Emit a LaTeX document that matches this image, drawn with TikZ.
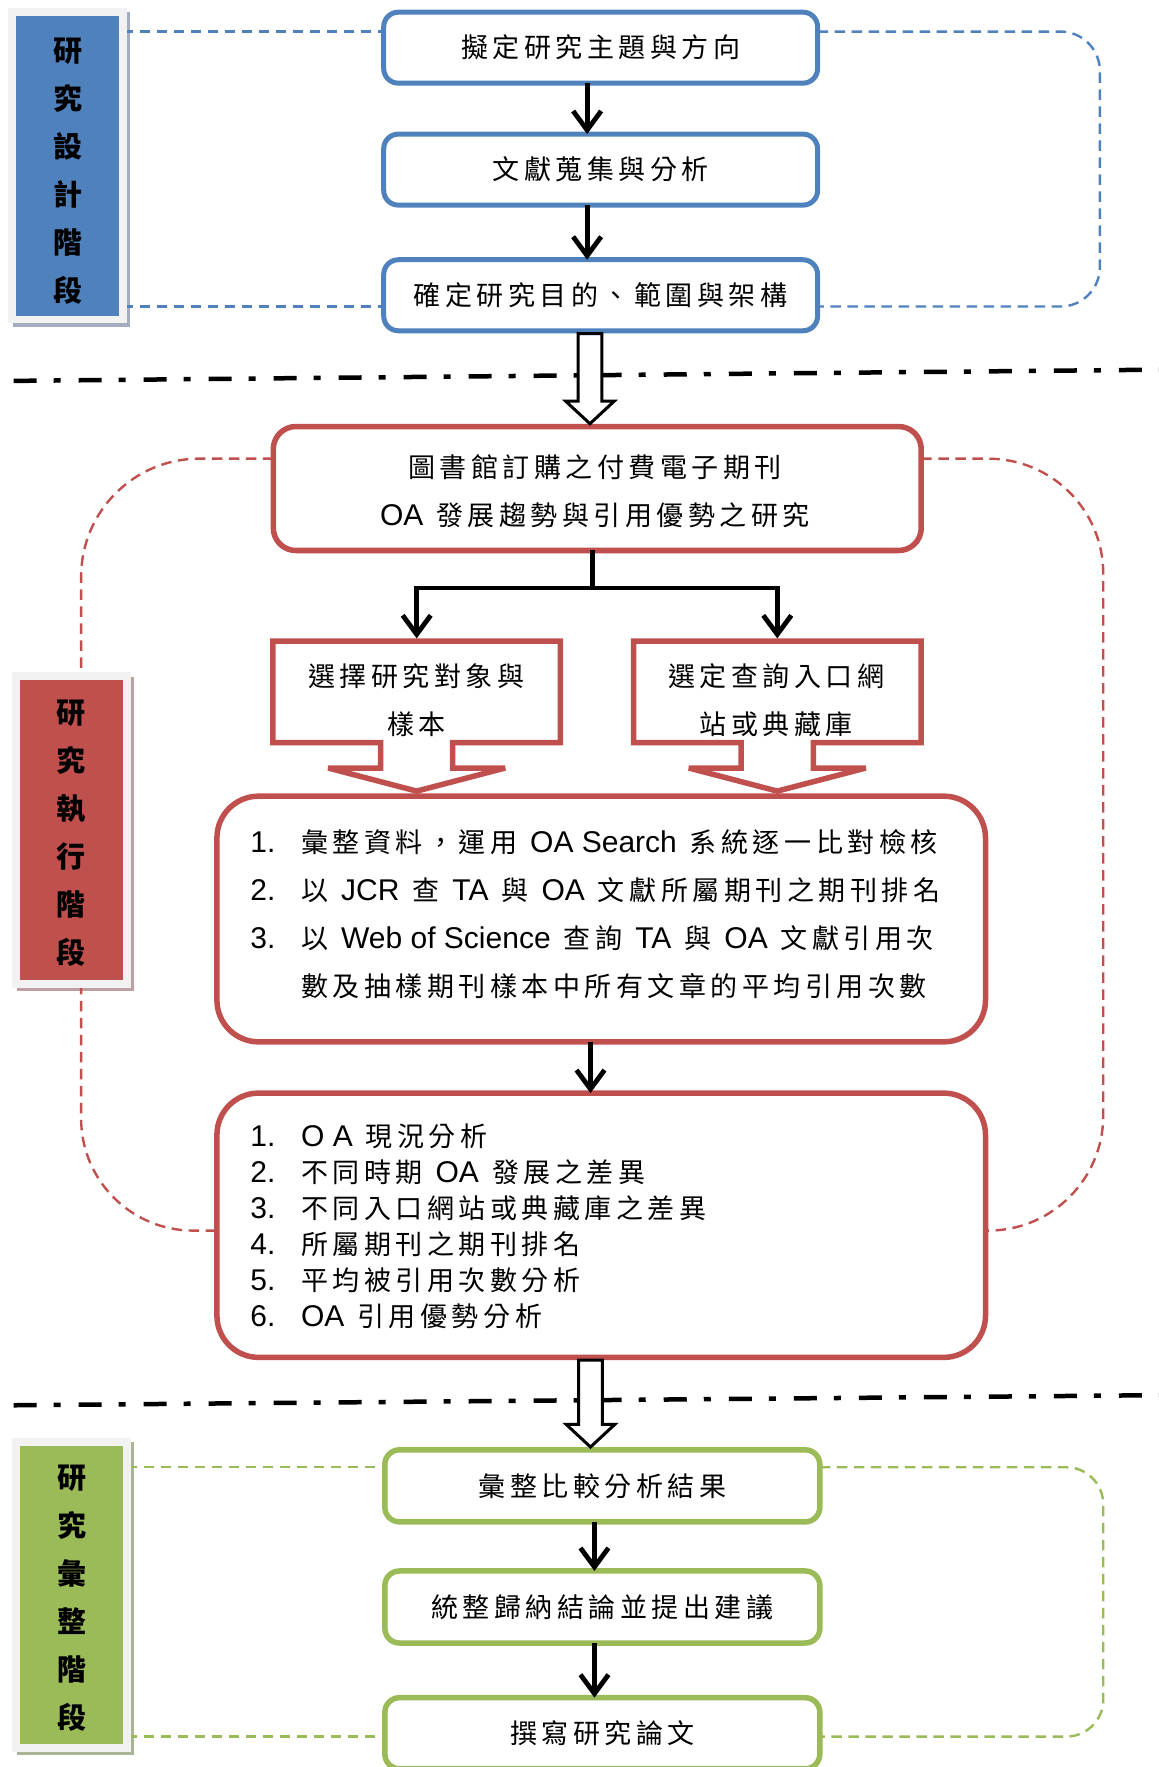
\documentclass[tikz,border=0pt]{standalone}
\usepackage{fontspec}
\setmainfont{Liberation Sans}
\newfontfamily\cjk{Noto Sans CJK TC}
\newfontfamily\latf{Liberation Sans}
\usetikzlibrary{arrows.meta,calc,backgrounds}
\definecolor{bluC}{HTML}{4F81BD}
\definecolor{redC}{HTML}{C0504D}
\definecolor{grnC}{HTML}{9BBB59}
\definecolor{frameC}{HTML}{F2F2F2}
\definecolor{shB}{HTML}{A5AEC0}
\definecolor{shR}{HTML}{BFA0A0}
\definecolor{shG}{HTML}{AAB595}
\newdimen\spk \spk=4.5pt
\makeatletter
\newcommand\spc[1]{{\cjk\@tfor\@ch:=#1\do{\@ch\kern\spk}\unkern}}
\makeatother
\newcommand\lat[1]{{\latf\fontsize{30}{36}\selectfont #1}}
\newcommand\gp{\hspace{13pt}}
\newcommand\nm[1]{\makebox[50.7pt][l]{\lat{#1}}}
\newcommand\hollowarrow[4]{%
 \coordinate (#4s) at (#1 -| #3);
 \coordinate (#4e) at (#2 -| #3);
 \draw[hol] ($(#4s)+(-10.5,2.5)$) -- ($(#4e)+(-10.5,-22.5)$) -- ($(#4e)+(-21.5,-22.5)$) -- ($(#4e)+(0,-2.5)$) -- ($(#4e)+(21.5,-22.5)$) -- ($(#4e)+(10.5,-22.5)$) -- ($(#4s)+(10.5,2.5)$) -- cycle;}
\newcommand\rcallout[1]{%
 \draw[draw=redC,line width=5.5pt,line join=miter,miter limit=3] (#1.north west) -- (#1.north east) -- (#1.south east) -- ($(#1.south)+(32,0)$) -- ($(#1.south)+(32,22.5)$) -- ($(#1.south)+(78.5,22.5)$) -- ($(#1.south)+(0,43)$) -- ($(#1.south)+(-78.5,22.5)$) -- ($(#1.south)+(-32,22.5)$) -- ($(#1.south)+(-32,0)$) -- (#1.south west) -- cycle;}
\begin{document}
\begin{tikzpicture}[x=1.1265pt,y=-1.1265pt,
 bbox/.style={draw=bluC,line width=5pt,rounded corners=14.6pt,minimum width=433.7pt,minimum height=71pt,inner sep=0pt,outer sep=0pt,fill=white,font=\fontsize{27}{32}\selectfont},
 gbox/.style={bbox,draw=grnC,line width=5.5pt,minimum width=434.8pt,minimum height=72pt},
 rbox/.style={draw=redC,line width=5.5pt,fill=white,inner sep=0pt,outer sep=0pt},
 stagebox/.style={draw=frameC,line width=7.9pt,minimum width=110.4pt,minimum height=307.5pt,inner sep=0pt,outer sep=0pt},
 stagetext/.style={align=center,inner sep=0pt,font=\cjk\bfseries\fontsize{29}{48}\selectfont},
 btext/.style={align=center,inner sep=0pt,font=\fontsize{27}{48}\selectfont},
 ltext/.style={anchor=west,align=left,inner sep=0pt},
 calbox/.style={minimum width=287.3pt,minimum height=101.4pt,inner sep=0pt,outer sep=0pt},
 arr/.style={line width=4.8pt,-{Straight Barb[length=19pt,width=28pt]}},
 plainline/.style={line width=4.8pt},
 hol/.style={draw=black,line width=3pt,fill=white},
 sepline/.style={line width=4.5pt,dash pattern=on 23pt off 17pt on 7pt off 18pt},
 loopl/.style={line width=2.4pt,dash pattern=on 10.5pt off 6.5pt},
]
\useasboundingbox (0,0) rectangle (1028,1568);

% stage labels
\node[stagebox,fill=bluC] (st1) at (59.75,147) {};
\node[stagetext] (st1t) at (60,151.5) {研\\究\\設\\計\\階\\段};
\node[stagebox,fill=redC] (st2) at (63.5,736.5) {};
\node[stagetext] (st2t) at (63,739.5) {研\\究\\執\\行\\階\\段};
\node[stagebox,fill=grnC,minimum height=305.8pt] (st3) at (63.6,1415.25) {};
\node[stagetext] (st3t) at (63.5,1418.5) {研\\究\\彙\\整\\階\\段};

% design stage
\node[bbox] (b1) at (533,42.3) {\spc{擬定研究主題與方向}};
\node[bbox] (b2) at (533,150.5) {\spc{文獻蒐集與分析}};
\node[bbox] (b3) at (533,262) {\spc{確定研究目的、範圍與架構}};
\coordinate (xa) at (521,0);
\draw[arr] (b1.south -| xa) -- (b2.north -| xa);
\draw[arr] (b2.south -| xa) -- (b3.north -| xa);

% separators
\coordinate (s1a) at (12,338); \coordinate (s1b) at (1032,328);
\draw[sepline] (s1a) -- (s1b);
\coordinate (s2a) at (12,1247); \coordinate (s2b) at (1032,1238);
\draw[sepline] (s2a) -- (s2b);

% execution stage
\node[rbox,rounded corners=22.5pt,minimum width=647.7pt,minimum height=123.9pt] (b4) at (530,433.5) {};
\node[btext,font=\fontsize{27}{47.5}\selectfont] (b4t) at (528,436) {\spc{圖書館訂購之付費電子期刊}\\\lat{OA}\gp\spc{發展趨勢與引用優勢之研究}};
\coordinate (xb) at (523.5,0);
\hollowarrow{b3.south}{b4.north}{xb}{ha}

\node[calbox] (c1) at (369.75,614) {};
\node[calbox] (c2) at (689.75,614) {};
\rcallout{c1}
\rcallout{c2}
\node[btext] (c1t) at (369.5,621.5) {\spc{選擇研究對象與}\\\spc{樣本}};
\node[btext] (c2t) at (689,621.5) {\spc{選定查詢入口網}\\\spc{站或典藏庫}};

\coordinate (fk) at (526,521.7);
\draw[plainline] (b4.south -| fk) -- (fk);
\draw[arr] (fk) -| ($(c1.north)+(0,-2.5)$);
\draw[arr] (fk) -| ($(c2.north)+(0,-2.5)$);

\node[rbox,rounded corners=41.7pt,minimum width=768.3pt,minimum height=245.6pt] (b5) at (533.5,815.5) {};
\node[ltext,font=\fontsize{27}{48}\selectfont] (b5t) at (222,811) {%
\nm{1.}\spc{彙整資料，運用}\gp\lat{OA Search}\gp\spc{系統逐一比對檢核}\\
\nm{2.}\spc{以}\gp\lat{JCR}\gp\spc{查}\gp\lat{TA}\gp\spc{與}\gp\lat{OA}\gp\spc{文獻所屬期刊之期刊排名}\\
\nm{3.}\spc{以}\gp\lat{Web of Science}\gp\spc{查詢}\gp\lat{TA}\gp\spc{與}\gp\lat{OA}\gp\spc{文獻引用次}\\
\hspace*{50.7pt}\spc{數及抽樣期刊樣本中所有文章的平均引用次數}};

\node[rbox,rounded corners=41.7pt,minimum width=768.3pt,minimum height=264.2pt] (b6) at (533.5,1087.25) {};
\node[ltext,font=\fontsize{27}{36}\selectfont] (b6t) at (222,1088) {%
\nm{1.}\lat{O A}\gp\spc{現況分析}\\
\nm{2.}\spc{不同時期}\gp\lat{OA}\gp\spc{發展之差異}\\
\nm{3.}\spc{不同入口網站或典藏庫之差異}\\
\nm{4.}\spc{所屬期刊之期刊排名}\\
\nm{5.}\spc{平均被引用次數分析}\\
\nm{6.}\lat{OA}\gp\spc{引用優勢分析}};
\coordinate (xc) at (524,0);
\draw[arr] (b5.south -| xc) -- (b6.north -| xc);

% synthesis stage
\node[gbox] (g1) at (534.5,1318.5) {\spc{彙整比較分析結果}};
\node[gbox] (g2) at (534.5,1426) {\spc{統整歸納結論並提出建議}};
\node[gbox,minimum height=71pt] (g3) at (534.5,1538) {\spc{撰寫研究論文}};
\coordinate (xe) at (527.5,0);
\draw[arr] (g1.south -| xe) -- (g2.north -| xe);
\draw[arr] (g2.south -| xe) -- (g3.north -| xe);
\coordinate (xd) at (524,0);
\hollowarrow{b6.south}{g1.north}{xd}{hb}

% background: shadows and dashed loops
\begin{scope}[on background layer]
 \fill[shB] ($(st1.north west)+(0.5,0.5)$) rectangle ($(st1.south east)+(6.5,6.5)$);
 \fill[shR] ($(st2.north west)+(0.5,0.5)$) rectangle ($(st2.south east)+(6.5,6.5)$);
 \fill[shG] ($(st3.north west)+(0.5,0.5)$) rectangle ($(st3.south east)+(6.5,6.5)$);

 \coordinate (bt) at (976,28); \coordinate (bb) at (976,272);
 \draw[loopl,draw=bluC] (st1.east |- bt) -- (b1.west |- bt);
 \draw[loopl,draw=bluC] (st1.east |- bb) -- (b3.west |- bb);
 \draw[loopl,draw=bluC,rounded corners=39.4pt] (b1.east |- bt) -- (bt) -- (bb) -- (b3.east |- bb);

 \coordinate (rl1) at (72,407); \coordinate (rl2) at (72,1092);
 \coordinate (rr1) at (979,407); \coordinate (rr2) at (979,1092);
 \draw[loopl,draw=redC,rounded corners=118pt] (b4.west |- rl1) -- (rl1) -- (rl1 |- st2.north);
 \draw[loopl,draw=redC,rounded corners=112pt] (rl1 |- st2.south) -- (rl2) -- (b6.west |- rl2);
 \draw[loopl,draw=redC,rounded corners=115pt] (b4.east |- rr1) -- (rr1) -- (rr2) -- (b6.east |- rr2);

 \coordinate (gt) at (979,1302); \coordinate (gb) at (979,1541);
 \draw[loopl,draw=grnC] (st3.east |- gt) -- (g1.west |- gt);
 \draw[loopl,draw=grnC] (st3.east |- gb) -- (g3.west |- gb);
 \draw[loopl,draw=grnC,rounded corners=37pt] (g1.east |- gt) -- (gt) -- (gb) -- (g3.east |- gb);
\end{scope}
\end{tikzpicture}
\end{document}
